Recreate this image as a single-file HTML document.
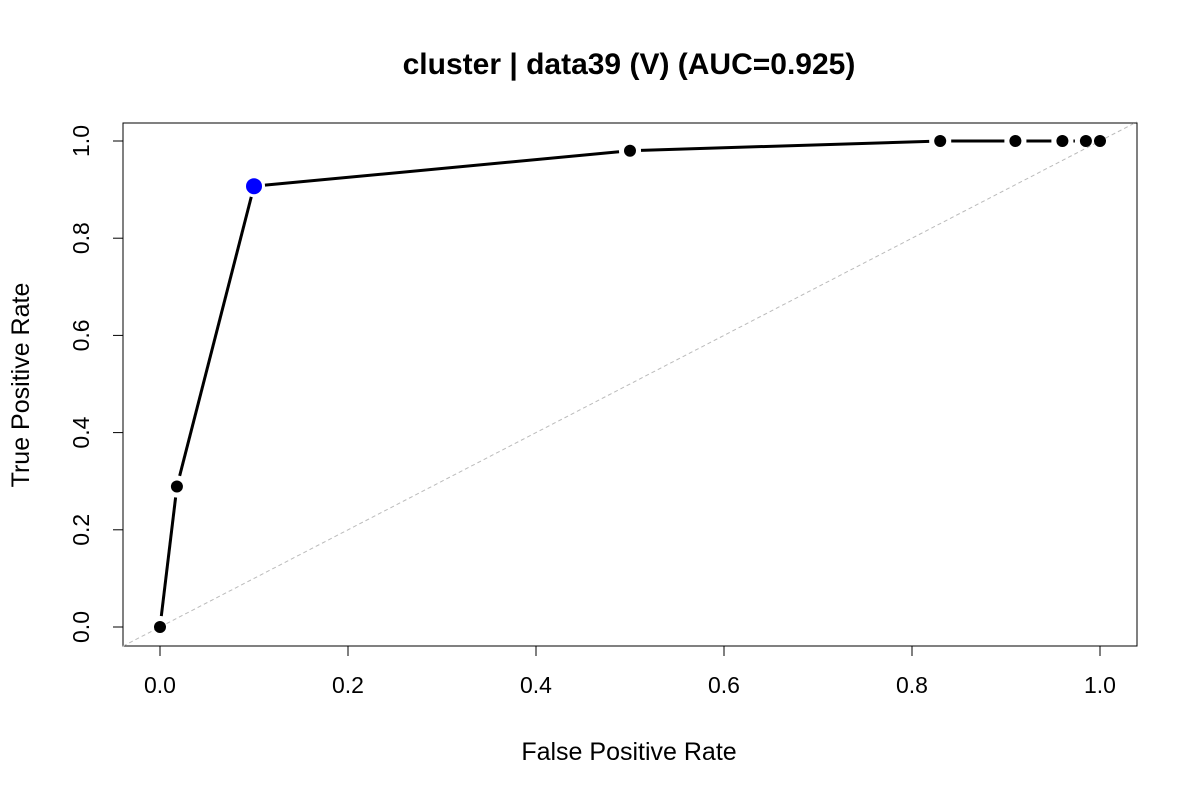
<!DOCTYPE html>
<html><head><meta charset="utf-8"><style>
html,body{margin:0;padding:0;background:#fff;}
svg{display:block;font-family:"Liberation Sans",Arial,sans-serif;}
</style></head><body>
<svg id="chart" width="1200" height="800" viewBox="0 0 1200 800">
<text x="629" y="74" text-anchor="middle" font-size="30" font-weight="bold">cluster | data39 (V) (AUC=0.925)</text>
<rect x="123" y="123" width="1014" height="523" fill="none" stroke="#000" stroke-width="1"/>
<text x="629" y="760" text-anchor="middle" font-size="25">False Positive Rate</text>
<text transform="translate(29,385) rotate(-90)" text-anchor="middle" font-size="25">True Positive Rate</text>
<g id="axes"></g>
<g id="marks"></g>
</svg>
<script>
const fprValues=[0,0.018,0.1,0.5,0.83,0.91,0.96,0.985,1];
const tprValues=[0,0.289,0.907,0.98,1,1,1,1,1];
const bestIndex=2;
const xTicks=[0,0.2,0.4,0.6,0.8,1.0];
const yTicks=[0,0.2,0.4,0.6,0.8,1.0];
const xTickLabels=["0.0","0.2","0.4","0.6","0.8","1.0"];
const yTickLabels=["0.0","0.2","0.4","0.6","0.8","1.0"];

const NS="http://www.w3.org/2000/svg";
const sx=v=>160+v*940;
const sy=v=>627-v*486;
function mk(tag,attrs,parent){const e=document.createElementNS(NS,tag);for(const k in attrs)e.setAttribute(k,attrs[k]);parent.appendChild(e);return e;}
const axes=document.getElementById('axes'),marks=document.getElementById('marks');
let xl=mk('line',{x1:sx(xTicks[0]),x2:sx(xTicks[xTicks.length-1]),y1:646,y2:646,stroke:'#000'},axes);


xTicks.forEach((t,i)=>{
 const tk=mk('line',{x1:sx(t),x2:sx(t),y1:646,y2:656,stroke:'#000'},axes);
 
 
 const tx=mk('text',{x:sx(t),y:693,'text-anchor':'middle','font-size':23},axes);
 tx.textContent=xTickLabels[i];
 
 
});
let yl=mk('line',{x1:123,x2:123,y1:sy(yTicks[0]),y2:sy(yTicks[yTicks.length-1]),stroke:'#000'},axes);


yTicks.forEach((t,i)=>{
 const tk=mk('line',{x1:113,x2:123,y1:sy(t),y2:sy(t),stroke:'#000'},axes);
 
 
 const tx=mk('text',{x:0,y:0,'text-anchor':'middle','font-size':23,transform:`translate(89,${sy(t)}) rotate(-90)`},axes);
 tx.textContent=yTickLabels[i];
 
 
});
const dg=mk('line',{x1:123,y1:sy((123-160)/940),x2:1137,y2:sy((1137-160)/940),stroke:'#bbb','stroke-dasharray':'4,3','stroke-width':1},marks);


for(let i=0;i<fprValues.length-1;i++){
 const x1=sx(fprValues[i]),y1=sy(tprValues[i]),x2=sx(fprValues[i+1]),y2=sy(tprValues[i+1]);
 const d=Math.hypot(x2-x1,y2-y1),g=11;
 if(d<=2*g)continue;
 const ux=(x2-x1)/d,uy=(y2-y1)/d;
 const s=mk('line',{x1:x1+ux*g,y1:y1+uy*g,x2:x2-ux*g,y2:y2-uy*g,stroke:'#000','stroke-width':3},marks);
 
 
}
fprValues.forEach((f,i)=>{
 const best=i===bestIndex;
 const c=mk('circle',{cx:sx(f),cy:sy(tprValues[i]),r:best?8:6,fill:best?'#0000ff':'#000'},marks);
 
 
});
</script>
</body></html>
